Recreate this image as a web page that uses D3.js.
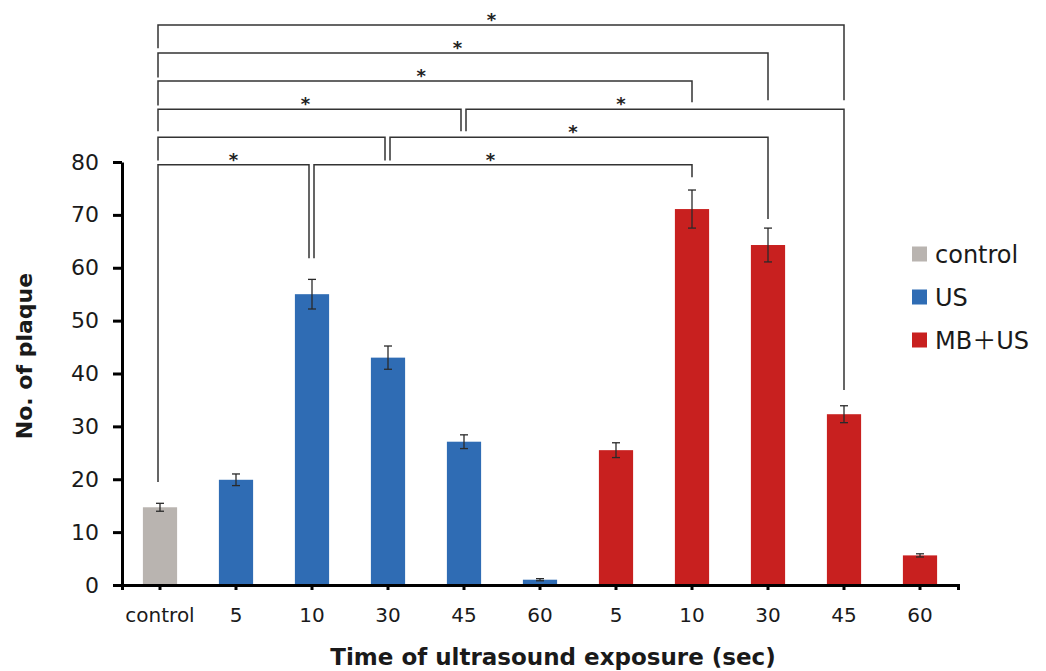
<!DOCTYPE html>
<html>
<head>
<meta charset="utf-8">
<script src="https://cdn.jsdelivr.net/npm/d3@7"></script>
<style>
  html, body { margin: 0; padding: 0; background: #fff; }
  svg { display: block; font-family: "DejaVu Sans", sans-serif; }
</style>
</head>
<body>
<svg id="chart" width="1046" height="671"></svg>
<script>
// bars
const barKeys = ['control', 'US-5', 'US-10', 'US-30', 'US-45', 'US-60', 'MB-5', 'MB-10', 'MB-30', 'MB-45', 'MB-60'];
const tickLabels = ['control', '5', '10', '30', '45', '60', '5', '10', '30', '45', '60'];
const barGroups = ['control', 'US', 'US', 'US', 'US', 'US', 'MB', 'MB', 'MB', 'MB', 'MB'];
const means = [14.7, 19.9, 55.0, 43.0, 27.1, 1.0, 25.5, 71.1, 64.3, 32.3, 5.6];
const errors = [0.75, 1.1, 2.8, 2.2, 1.3, 0.2, 1.4, 3.6, 3.2, 1.6, 0.3];
const yTicks = [0, 10, 20, 30, 40, 50, 60, 70, 80];

// legend
const legendKeys = ['control', 'US', 'MB'];
const legendLabels = ['control', 'US', 'MB＋US'];

// significance brackets (levels and leg ends in y units)
const bracketFrom = ['control', 'control', 'control', 'control', 'US-45', 'control', 'US-30', 'control', 'US-10'];
const bracketTo = ['MB-45', 'MB-30', 'MB-10', 'US-45', 'MB-45', 'US-30', 'MB-30', 'US-10', 'MB-10'];
const bracketLevel = [105.9, 100.6, 95.3, 90.0, 90.0, 84.7, 84.7, 79.5, 79.5];
const bracketLeftEnd = [101.5, 96.0, 90.7, 85.8, 85.8, 80.3, 80.3, 19.5, 61.8];
const bracketRightEnd = [91.7, 91.7, 91.3, 85.8, 36.9, 80.3, 69.2, 61.8, 77.1];
const bracketStar = [0.486, 0.491, 0.493, 0.487, 0.41, null, 0.484, 0.5, 0.467];

const colors = { control: '#b9b4b0', US: '#2f6cb4', MB: '#c8201f' };

const svg = d3.select('#chart');
const plotLeft = 122, plotRight = 958, plotTop = 162, plotBottom = 585;

const x = d3.scaleBand()
  .domain(barKeys)
  .range([plotLeft, plotRight])
  .paddingInner(0.55)
  .paddingOuter(0.275);

const y = d3.scaleLinear().domain([0, 80]).range([plotBottom, plotTop]);

// bars
svg.append('g')
  .selectAll('rect')
  .data(barKeys)
  .join('rect')
  .attr('x', d => x(d))
  .attr('y', (d, i) => y(means[i]))
  .attr('width', x.bandwidth())
  .attr('height', (d, i) => y(0) - y(means[i]))
  .attr('fill', (d, i) => colors[barGroups[i]]);

// error bars
const err = svg.append('g')
  .attr('stroke', '#2a2a2a')
  .attr('stroke-width', 1.3);
barKeys.forEach((k, i) => {
  const cx = x(k) + x.bandwidth() / 2;
  const y1 = y(means[i] + errors[i]);
  const y2 = y(means[i] - errors[i]);
  err.append('line').attr('x1', cx).attr('x2', cx).attr('y1', y1).attr('y2', y2);
  err.append('line').attr('x1', cx - 4).attr('x2', cx + 4).attr('y1', y1).attr('y2', y1);
  err.append('line').attr('x1', cx - 4).attr('x2', cx + 4).attr('y1', y2).attr('y2', y2);
});

// y axis
const yAxis = svg.append('g')
  .attr('transform', `translate(${plotLeft},0)`)
  .call(d3.axisLeft(y).tickValues(yTicks).tickSize(9).tickSizeOuter(0).tickPadding(14));
yAxis.select('.domain').attr('stroke-width', 3);
yAxis.selectAll('.tick line').attr('stroke-width', 3);
yAxis.selectAll('.tick text')
  .attr('font-size', 22)
  .attr('font-family', '"DejaVu Sans", sans-serif')
  .attr('fill', '#1a1a1a');

// x axis
const xAxis = svg.append('g')
  .attr('transform', `translate(0,${plotBottom})`)
  .call(d3.axisBottom(x).tickSize(5).tickSizeOuter(5).tickPadding(18).tickFormat((d, i) => tickLabels[i]));
xAxis.select('.domain').attr('stroke-width', 3);
xAxis.selectAll('.tick line').attr('stroke-width', 3);
xAxis.selectAll('.tick text')
  .attr('font-size', 20)
  .attr('font-family', '"DejaVu Sans", sans-serif')
  .attr('fill', '#1a1a1a');

// axis titles
svg.append('text')
  .attr('x', 553)
  .attr('y', 665)
  .attr('text-anchor', 'middle')
  .attr('font-size', 23)
  .attr('font-weight', 'bold')
  .attr('fill', '#1a1a1a')
  .text('Time of ultrasound exposure (sec)');

svg.append('text')
  .attr('transform', 'translate(32,356) rotate(-90)')
  .attr('text-anchor', 'middle')
  .attr('font-size', 22)
  .attr('font-weight', 'bold')
  .attr('fill', '#1a1a1a')
  .text('No. of plaque');

// brackets
const center = k => x(k) + x.bandwidth() / 2;
const shared = k => bracketFrom.includes(k) && bracketTo.includes(k) && k !== 'control';
const br = svg.append('g')
  .attr('fill', 'none')
  .attr('stroke', '#333')
  .attr('stroke-width', 1.5);
bracketFrom.forEach((from, i) => {
  const to = bracketTo[i];
  const xa = center(from) + (shared(from) ? 2 : -2);
  const xb = center(to) + (shared(to) ? -3 : 0);
  const ly = y(bracketLevel[i]);
  br.append('path')
    .attr('d', `M${xa},${y(bracketLeftEnd[i])}V${ly}H${xb}V${y(bracketRightEnd[i])}`);
  if (bracketStar[i] !== null) {
    svg.append('text')
      .attr('x', xa + (xb - xa) * bracketStar[i])
      .attr('y', ly + 1)
      .attr('text-anchor', 'middle')
      .attr('font-size', 18)
      .attr('font-weight', 'bold')
      .attr('fill', '#222')
      .text('*');
  }
});

// legend
const legend = svg.append('g').attr('transform', 'translate(912,254)');
legendKeys.forEach((k, i) => {
  const row = legend.append('g').attr('transform', `translate(0,${i * 43})`);
  row.append('rect')
    .attr('x', 0).attr('y', -7.5)
    .attr('width', 15).attr('height', 15)
    .attr('fill', colors[k]);
  const label = row.append('text')
    .attr('x', 23)
    .attr('y', 9)
    .attr('font-size', 24)
    .attr('fill', '#1a1a1a');
  // full-width plus drawn with a CJK face so it keeps its width
  legendLabels[i].split(/(＋)/).forEach(part => {
    if (!part) return;
    label.append('tspan')
      .attr('font-family', part === '＋' ? '"Noto Sans CJK JP", sans-serif' : null)
      .text(part);
  });
});
</script>
</body>
</html>
